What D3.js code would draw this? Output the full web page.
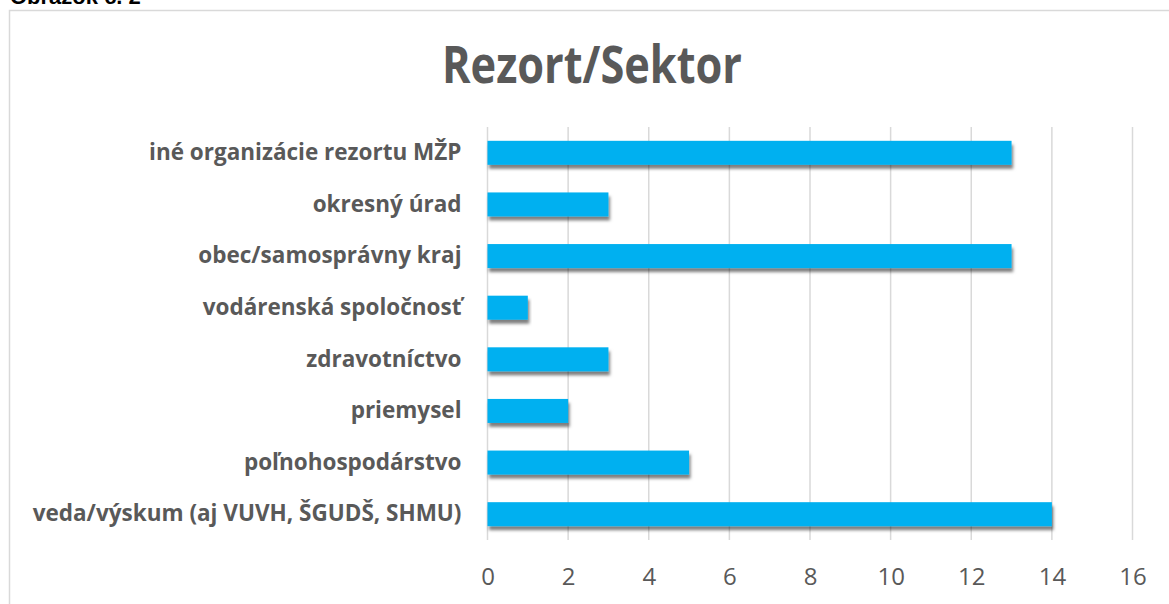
<!DOCTYPE html>
<html>
<head>
<meta charset="utf-8">
<script src="https://cdn.jsdelivr.net/npm/d3@7"></script>
<style>
  body { margin: 0; background: #fff; }
  .axis text { font-family: "Open Sans", sans-serif; }
</style>
</head>
<body>
<div id="rezort"></div>
<script>
// categories from top to bottom
var categories = [
  "iné organizácie rezortu MŽP",
  "okresný úrad",
  "obec/samosprávny kraj",
  "vodárenská spoločnosť",
  "zdravotníctvo",
  "priemysel",
  "poľnohospodárstvo",
  "veda/výskum (aj VUVH, ŠGUDŠ, SHMU)"
];
var counts = [13, 3, 13, 1, 3, 2, 5, 14];
var tickValues = [0, 2, 4, 6, 8, 10, 12, 14, 16];
var chartTitle = "Rezort/Sektor";
var caption = "Obrázok č. 2";

(function() {
  var fullWidth = 1169, fullHeight = 604;
  var margin = { top: 127, left: 487.5, right: 36.5, bottom: 64 },
  height = fullHeight - margin.top - margin.bottom,
  width = fullWidth - margin.left - margin.right;

  var root = d3.select("#rezort")
        .append("svg")
        .attr("width", fullWidth)
        .attr("height", fullHeight)

  var defs = root.append("defs")
  var shadow = defs.append("filter")
        .attr("id", "barShadow")
        .attr("x", "-5%").attr("y", "-30%")
        .attr("width", "115%").attr("height", "180%")
  shadow.append("feDropShadow")
        .attr("dx", 1.5)
        .attr("dy", 4)
        .attr("stdDeviation", 1.6)
        .attr("flood-color", "#000")
        .attr("flood-opacity", 0.5)

  // caption above the chart frame (only its lower part shows, as in the source)
  root.append("text")
    .text(caption)
    .attr("x", 10)
    .attr("y", 4)
    .attr("font-family", "Liberation Sans, Arial, sans-serif")
    .attr("font-weight", "bold")
    .attr("font-size", 22)
    .attr("fill", "#000")

  // chart frame, runs off the right and bottom edges
  root.append("rect")
    .attr("x", 9.5)
    .attr("y", 10.5)
    .attr("width", 1200)
    .attr("height", 640)
    .attr("fill", "#fff")
    .attr("stroke", "#d9d9d9")
    .attr("stroke-width", 1.5)

  root.append("text")
    .text(chartTitle)
    .attr("x", 592)
    .attr("y", 83)
    .attr("text-anchor", "middle")
    .attr("font-family", "Open Sans, sans-serif")
    .attr("font-weight", "bold")
    .attr("font-size", 52)
    .attr("textLength", 300)
    .attr("lengthAdjust", "spacingAndGlyphs")
    .attr("fill", "#595959")

  var svg = root.append("g")
        .attr("transform", "translate(" + margin.left + "," + margin.top + ")")

  var xPositionScale = d3.scaleLinear()
    .domain([0, 16])
    .range([0, width])

  var yPositionScale = d3.scaleBand()
    .domain(categories)
    .range([0, height])
    .paddingInner(0.535)
    .paddingOuter(0.2675)

  // vertical gridlines
  svg.append("g")
    .attr("class", "grid")
    .selectAll("line")
    .data(tickValues)
    .enter().append("line")
    .attr("x1", function(d) { return xPositionScale(d) })
    .attr("x2", function(d) { return xPositionScale(d) })
    .attr("y1", 0)
    .attr("y2", height)
    .attr("stroke", "#d9d9d9")
    .attr("stroke-width", 1.5)

  var xAxis = d3.axisBottom(xPositionScale)
    .tickValues(tickValues)
    .tickSize(0)
    .tickPadding(28)
  var xAxisG = svg.append("g")
    .attr("class", "axis x-axis")
    .attr("transform", "translate(0," + height + ")")
    .call(xAxis)
  xAxisG.select(".domain").remove()
  xAxisG.selectAll("text")
    .attr("font-size", 24)
    .attr("fill", "#595959")

  var yAxis = d3.axisLeft(yPositionScale)
    .tickSize(0)
    .tickPadding(26)
  var yAxisG = svg.append("g")
    .attr("class", "axis y-axis")
    .call(yAxis)
  yAxisG.select(".domain").remove()
  yAxisG.selectAll("text")
    .attr("font-size", 22.5)
    .attr("font-weight", "bold")
    .attr("fill", "#595959")

  svg.append("g")
    .attr("class", "bars")
    .selectAll("rect")
    .data(categories)
    .enter().append("rect")
    .attr("x", xPositionScale(0))
    .attr("y", function(d) { return yPositionScale(d) })
    .attr("width", function(d, i) { return xPositionScale(counts[i]) - xPositionScale(0) })
    .attr("height", yPositionScale.bandwidth())
    .attr("fill", "#00b0f0")
    .attr("filter", "url(#barShadow)")
})();
</script>
</body>
</html>
